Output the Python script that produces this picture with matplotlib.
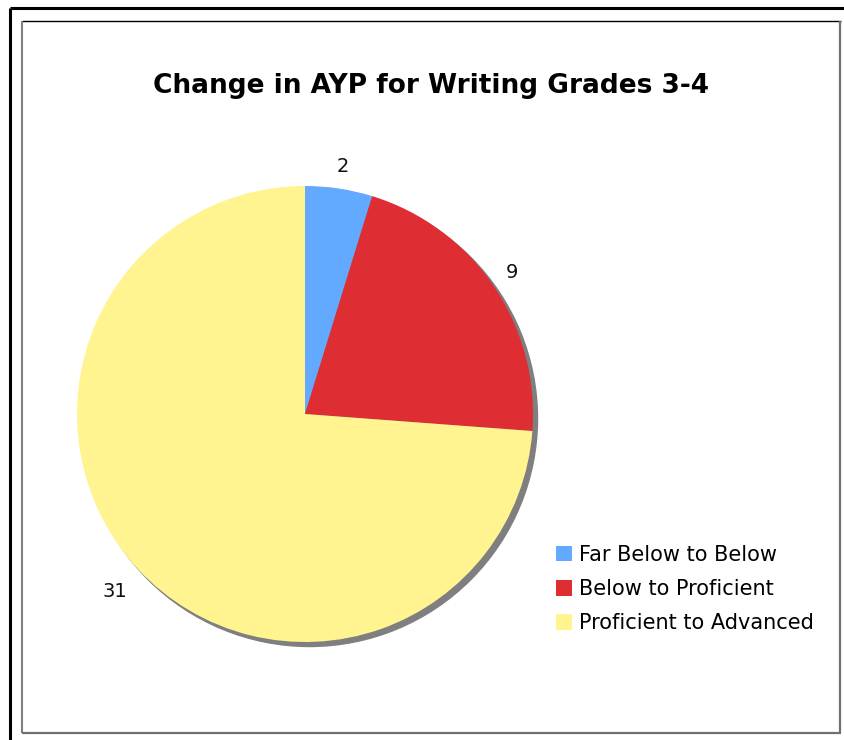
import numpy as np
import matplotlib.pyplot as plt
from matplotlib.patches import Circle, Patch
from matplotlib.lines import Line2D

W, H = 845, 740

categories = ["Far Below to Below", "Below to Proficient", "Proficient to Advanced"]
counts = [2, 9, 31]
colors = ["#62a9ff", "#de2d33", "#fff48f"]
title = "Change in AYP for Writing Grades 3-4"


def px(x, y):
  # pixel (from top-left) to figure fraction
  return x / W, 1 - y / H


def main():
  fig = plt.figure(figsize=(W / 100, H / 100), dpi=100)

  # frames around the chart
  for (x0, y0), (x1, y1), col, lw in [
    ((10, 8), (W + 5, 8), "black", 2.2),
    ((10, 8), (10, H + 5), "black", 2.2),
    ((22, 21), (841, 21), "black", 1.0),
    ((22.5, 21), (22.5, 733), "#808080", 1.5),
    ((22, 732.5), (841, 732.5), "#707070", 1.6),
    ((840.5, 21), (840.5, 733), "#707070", 1.6),
  ]:
    a, b = px(x0, y0)
    c, d = px(x1, y1)
    fig.add_artist(Line2D([a, c], [b, d], color=col, lw=lw, solid_capstyle="butt"))

  cx, cy, r = 305, 414, 228
  ax = fig.add_axes([(cx - r) / W, (H - cy - r) / H, 2 * r / W, 2 * r / H])

  # drop shadow
  off = 4.5 / r
  ax.add_patch(Circle((off, -off), 1.0, color="#7f7f7f", zorder=0, clip_on=False))

  wedges, texts = ax.pie(counts, colors=colors, startangle=90, counterclock=False,
                         labels=[str(c) for c in counts], labeldistance=1.1,
                         radius=1.0, wedgeprops=dict(linewidth=0, clip_on=False),
                         textprops=dict(fontsize=14, color="#111111"))
  for w in wedges:
    w.set_zorder(1)
  for t in texts[:2]:
    t.set_ha("center")
  # the big slice's label sits lower left
  ang = np.deg2rad(223)
  texts[2].set_position((1.14 * np.cos(ang), 1.14 * np.sin(ang)))
  texts[2].set_ha("center")

  ax.set_xlim(-1, 1)
  ax.set_ylim(-1, 1)
  ax.set_aspect("equal")
  ax.axis("off")

  tx, ty = px(431, 86)
  fig.text(tx, ty, title, ha="center", va="center", fontsize=19, fontweight="bold")

  handles = [Patch(facecolor=c, edgecolor="none") for c in colors]
  lx, ly = px(556, 545)
  fig.legend(handles, categories, loc="upper left", bbox_to_anchor=(lx, ly),
             frameon=False, fontsize=15, handlelength=0.75, handleheight=0.75,
             handletextpad=0.35, labelspacing=0.68, borderaxespad=0, borderpad=0)

  fig.savefig("out.png", dpi=100)


if __name__ == "__main__":
  main()
